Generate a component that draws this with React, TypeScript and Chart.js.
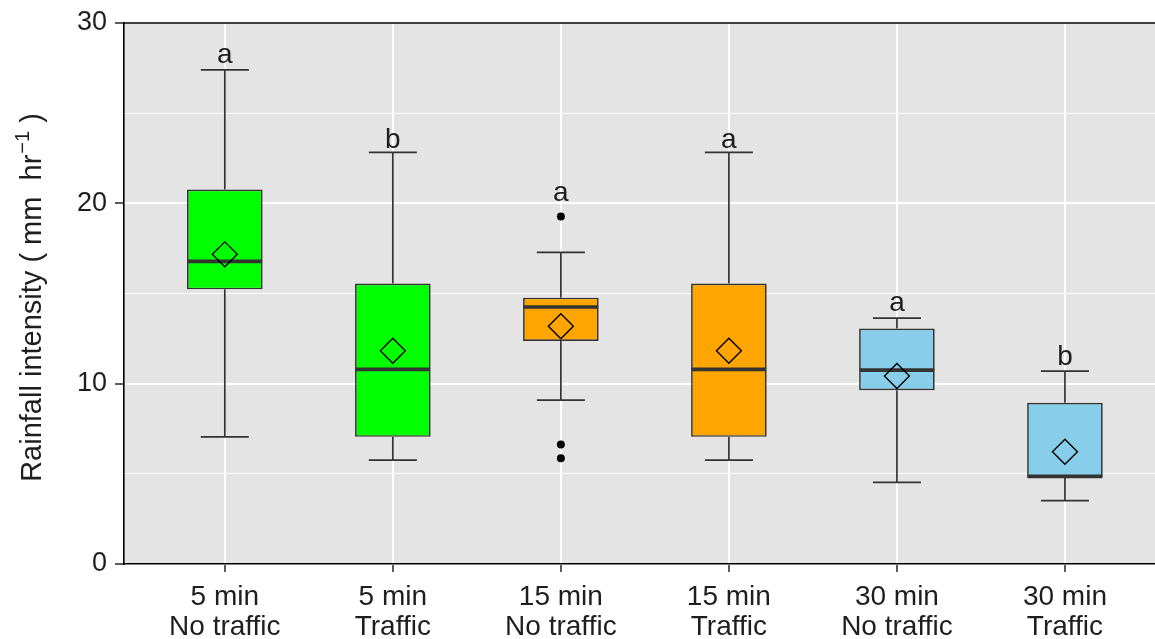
import React, { useEffect, useRef } from 'react';
import { Chart, registerables } from 'chart.js';

Chart.register(...registerables);

// ---- data ----
const categories: string[][] = [
  ['5 min', 'No traffic'],
  ['5 min', 'Traffic'],
  ['15 min', 'No traffic'],
  ['15 min', 'Traffic'],
  ['30 min', 'No traffic'],
  ['30 min', 'Traffic'],
];
const whiskerLow = [7.05, 5.76, 9.09, 5.76, 4.53, 3.51];
const q1 = [15.23, 7.05, 12.37, 7.05, 9.64, 4.78];
const median = [16.78, 10.79, 14.25, 10.79, 10.75, 4.86];
const q3 = [20.77, 15.55, 14.77, 15.55, 13.06, 8.94];
const whiskerHigh = [27.4, 22.83, 17.28, 22.83, 13.64, 10.69];
const means = [17.17, 11.82, 13.18, 11.82, 10.42, 6.22];
const outlierGroup = [2, 2, 2];
const outlierValues = [19.27, 6.63, 5.86];
const letters = ['a', 'b', 'a', 'a', 'a', 'b'];
const letterY = [28.2, 23.5, 20.55, 23.5, 14.45, 11.47];
const boxColors = ['#00FF00', '#00FF00', '#FFA500', '#FFA500', '#87CEEB', '#87CEEB'];
const yMin = 0;
const yMax = 30;
const yStep = 5;
const yMajorStep = 10;
const yTitleMain = 'Rainfall intensity ( mm  hr';
const yTitleSup = '\u22121';
const yTitleTail = ' )';

const FONT = '"Liberation Sans", Arial, Helvetica, sans-serif';
const TEXT = '#1e1e1e';
const LINE = '#333333';

const boxPlugin = {
  id: 'boxExtras',
  beforeDraw(chart: any) {
    const { ctx, chartArea: a } = chart;
    ctx.save();
    ctx.fillStyle = '#ffffff';
    ctx.fillRect(0, 0, chart.width, chart.height);
    ctx.fillStyle = '#E4E4E4';
    ctx.fillRect(a.left, a.top, a.right - a.left, a.bottom - a.top);
    ctx.restore();
  },
  beforeDatasetsDraw(chart: any) {
    const { ctx, scales } = chart;
    const x = scales.x;
    const y = scales.y;
    ctx.save();
    ctx.strokeStyle = LINE;
    ctx.lineWidth = 1.7;
    const capHalf = 0.143;
    categories.forEach((_, i) => {
      const cx = x.getPixelForValue(i);
      const yh = y.getPixelForValue(whiskerHigh[i]);
      const yl = y.getPixelForValue(whiskerLow[i]);
      ctx.beginPath();
      ctx.moveTo(cx, y.getPixelForValue(q3[i]));
      ctx.lineTo(cx, yh);
      ctx.moveTo(cx, y.getPixelForValue(q1[i]));
      ctx.lineTo(cx, yl);
      ctx.moveTo(x.getPixelForValue(i - capHalf), yh);
      ctx.lineTo(x.getPixelForValue(i + capHalf), yh);
      ctx.moveTo(x.getPixelForValue(i - capHalf), yl);
      ctx.lineTo(x.getPixelForValue(i + capHalf), yl);
      ctx.stroke();
    });
    ctx.restore();
  },
  afterDatasetDraw(chart: any, args: any) {
    if (args.index !== 0) return;
    const { ctx, scales } = chart;
    const x = scales.x;
    const y = scales.y;
    ctx.save();
    ctx.strokeStyle = LINE;
    ctx.lineWidth = 3.6;
    const half = 0.222;
    categories.forEach((_, i) => {
      const ym = y.getPixelForValue(median[i]);
      ctx.beginPath();
      ctx.moveTo(x.getPixelForValue(i - half), ym);
      ctx.lineTo(x.getPixelForValue(i + half), ym);
      ctx.stroke();
    });
    ctx.restore();
  },
  afterDraw(chart: any) {
    const { ctx, scales, chartArea: a } = chart;
    const x = scales.x;
    const y = scales.y;
    ctx.save();
    // top border
    ctx.strokeStyle = '#000000';
    ctx.lineWidth = 1.6;
    ctx.beginPath();
    ctx.moveTo(a.left - 0.8, a.top);
    ctx.lineTo(a.right, a.top);
    ctx.stroke();
    // letters
    ctx.fillStyle = TEXT;
    ctx.font = `28px ${FONT}`;
    ctx.textAlign = 'center';
    ctx.textBaseline = 'alphabetic';
    letters.forEach((l, i) => {
      const cx = x.getPixelForValue(i);
      const cy = y.getPixelForValue(letterY[i]);
      ctx.fillText(l, cx, cy + 7.5);
    });
    // y title
    ctx.translate(41, 298);
    ctx.rotate(-Math.PI / 2);
    ctx.textAlign = 'left';
    ctx.font = `29px ${FONT}`;
    const wMain = ctx.measureText(yTitleMain).width;
    const wTail = ctx.measureText(yTitleTail).width;
    ctx.font = `20px ${FONT}`;
    const wSup = ctx.measureText(yTitleSup).width;
    let px = -(wMain + wSup + wTail) / 2;
    ctx.font = `29px ${FONT}`;
    ctx.fillText(yTitleMain, px, 0);
    px += wMain + 1;
    ctx.font = `20px ${FONT}`;
    ctx.fillText(yTitleSup, px, -12);
    px += wSup;
    ctx.font = `29px ${FONT}`;
    ctx.fillText(yTitleTail, px, 0);
    ctx.restore();
  },
};

export default function App() {
  const ref = useRef<HTMLCanvasElement | null>(null);

  useEffect(() => {
    if (!ref.current) return;
    const chart = new Chart(ref.current, {
      type: 'bar',
      data: {
        datasets: [
          {
            type: 'bar',
            data: categories.map((_, i) => ({ x: i, y: [q1[i], q3[i]] })) as any,
            backgroundColor: boxColors,
            borderColor: LINE,
            borderWidth: 1.7,
            borderSkipped: false,
            categoryPercentage: 1,
            barPercentage: 0.45,
            order: 3,
          } as any,
          {
            type: 'scatter',
            data: outlierValues.map((v, k) => ({ x: outlierGroup[k], y: v })),
            pointRadius: 4,
            pointBackgroundColor: '#000000',
            pointBorderColor: '#000000',
            pointBorderWidth: 0,
            order: 2,
          } as any,
          {
            type: 'scatter',
            data: means.map((v, i) => ({ x: i, y: v })),
            pointStyle: 'rectRot',
            pointRadius: 12.5,
            pointBackgroundColor: 'rgba(0,0,0,0)',
            pointBorderColor: '#000000',
            pointBorderWidth: 1.4,
            order: 1,
          } as any,
        ],
      },
      options: {
        responsive: false,
        animation: false,
        events: [],
        devicePixelRatio: 1,
        layout: { autoPadding: false, padding: { left: 0, right: 0, top: 23, bottom: 0 } },
        plugins: {
          legend: { display: false },
          tooltip: { enabled: false },
          title: { display: false },
        },
        scales: {
          x: {
            type: 'linear',
            offset: false,
            min: -0.6,
            max: 5.536,
            afterBuildTicks: (axis: any) => {
              axis.ticks = categories.map((_, i) => ({ value: i }));
            },
            afterFit: (axis: any) => {
              axis.height = 75;
              axis.paddingLeft = 0;
              axis.paddingRight = 0;
            },
            grid: {
              offset: false,
              color: '#ffffff',
              lineWidth: 2,
              tickColor: LINE,
              tickLength: 8,
              tickWidth: 1.6,
            },
            border: { display: true, color: '#000000', width: 1.6 },
            ticks: {
              autoSkip: false,
              maxRotation: 0,
              padding: 10,
              color: TEXT,
              font: { family: FONT, size: 28, lineHeight: 1.08 },
              callback: (v: any) => categories[Math.round(Number(v))] ?? '',
            },
          },
          y: {
            type: 'linear',
            min: yMin,
            max: yMax,
            afterFit: (axis: any) => {
              axis.width = 124;
              axis.paddingTop = 0;
              axis.paddingBottom = 0;
            },
            grid: {
              color: '#ffffff',
              lineWidth: (c: any) => (c.tick && c.tick.value % yMajorStep === 0 ? 2 : 1.1),
              tickColor: (c: any) => (c.tick && c.tick.value % yMajorStep === 0 ? LINE : 'rgba(0,0,0,0)'),
              tickLength: 9,
              tickWidth: 1.6,
            },
            border: { display: true, color: '#000000', width: 1.6 },
            ticks: {
              stepSize: yStep,
              padding: 8,
              color: TEXT,
              font: { family: FONT, size: 27 },
              callback: (v: any) => (Number(v) % yMajorStep === 0 ? String(v) : ''),
            },
            title: { display: false },
          },
        },
      } as any,
      plugins: [boxPlugin],
    });
    return () => chart.destroy();
  }, []);

  return (
    <div style={{ position: 'fixed', left: 0, top: 0, width: 1155, height: 639, overflow: 'hidden', background: '#fff' }}>
      <canvas ref={ref} width={1155} height={639} style={{ display: 'block', width: 1155, height: 639 }} />
    </div>
  );
}
